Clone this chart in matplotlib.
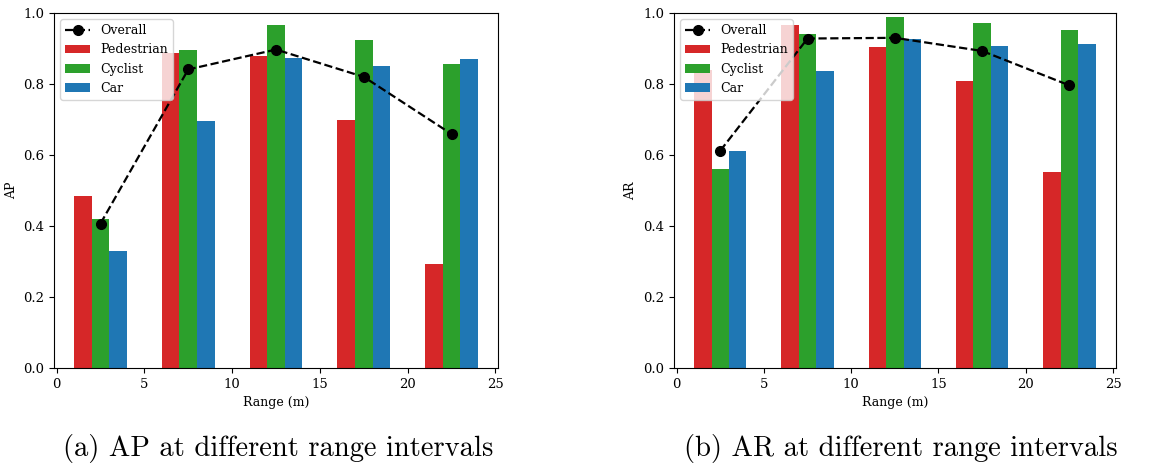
import matplotlib
matplotlib.use("Agg")
import matplotlib.pyplot as plt
import numpy as np

plt.rcParams["font.family"] = "DejaVu Serif"
plt.rcParams["font.size"] = 9.5
plt.rcParams["axes.labelsize"] = 9
plt.rcParams["legend.fontsize"] = 9

# range bins (m), 5 m wide
bin_edges = [0, 5, 10, 15, 20, 25]
classes = ["Pedestrian", "Cyclist", "Car"]
colors = ["tab:red", "tab:green", "tab:blue"]

ap_ped = [0.485, 0.886, 0.878, 0.698, 0.292]
ap_cyc = [0.421, 0.895, 0.965, 0.923, 0.855]
ap_car = [0.329, 0.695, 0.872, 0.850, 0.869]
ap_all = [0.407, 0.841, 0.897, 0.820, 0.659]

ar_ped = [0.838, 0.965, 0.903, 0.808, 0.551]
ar_cyc = [0.562, 0.942, 0.988, 0.971, 0.951]
ar_car = [0.612, 0.836, 0.928, 0.906, 0.912]
ar_all = [0.612, 0.928, 0.930, 0.893, 0.796]

captions = ["(a) AP at different range intervals", "(b) AR at different range intervals"]


def draw(ax, per_class, overall, ylabel):
    centers = np.array(bin_edges[:-1]) + 2.5
    w = 1.0
    bars = []
    for i, (vals, c, name) in enumerate(zip(per_class, colors, classes)):
        b = ax.bar(centers + (i - 1) * w, vals, width=w, color=c, label=name)
        bars.append(b)
    line, = ax.plot(centers, overall, "k--o", label="Overall", markersize=7, linewidth=1.6)
    ax.set_ylim(0, 1.0)
    ax.set_xlabel("Range (m)")
    ax.set_ylabel(ylabel)
    ax.legend(handles=[line] + bars, loc="upper left")


fig = plt.figure(figsize=(11.61, 4.63), dpi=100)
ax1 = fig.add_axes([0.0465, 0.205, 0.3825, 0.767])
ax2 = fig.add_axes([0.5805, 0.205, 0.3805, 0.767])

draw(ax1, [ap_ped, ap_cyc, ap_car], ap_all, "AP")
draw(ax2, [ar_ped, ar_cyc, ar_car], ar_all, "AR")

fig.text(0.24, 0.016, captions[0], ha="center", va="baseline", family="cmr10", fontsize=20.6)
fig.text(0.776, 0.016, captions[1], ha="center", va="baseline", family="cmr10", fontsize=20.6)

fig.savefig("out.png", dpi=100)
